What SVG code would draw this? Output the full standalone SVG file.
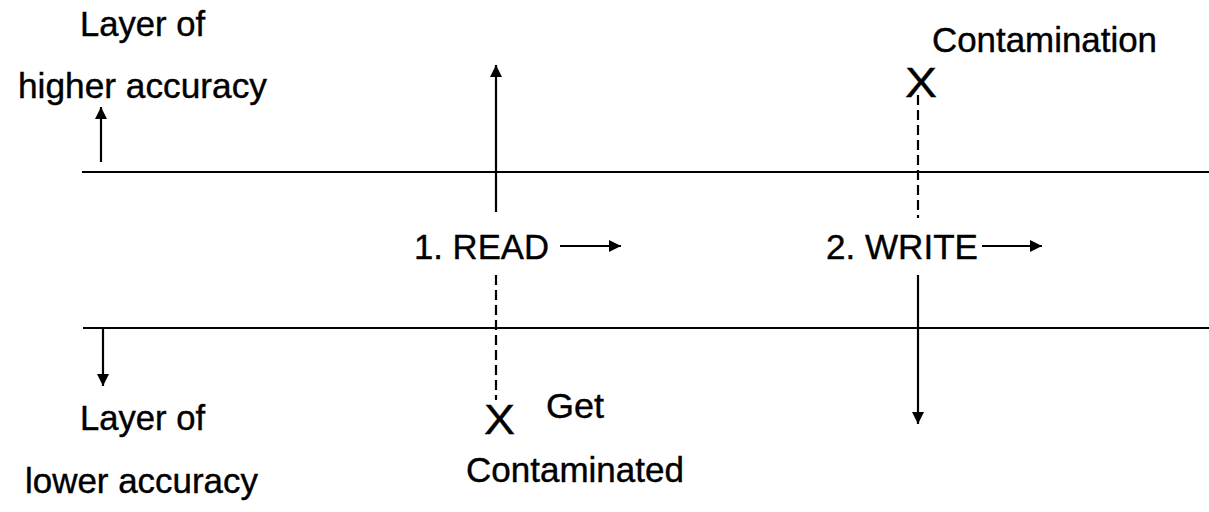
<svg xmlns="http://www.w3.org/2000/svg" width="1209" height="512" viewBox="0 0 1209 512">
<style>
text{font-family:"Liberation Sans",Arial,sans-serif;fill:#000;stroke:#000;stroke-width:0.4}
.t{font-size:35px}
.x{font-size:43px}
.ln{stroke:#000;stroke-width:2.2;fill:none}
.ds{stroke:#000;stroke-width:2.2;fill:none;stroke-dasharray:10,5}
.ar{stroke:#000;stroke-width:2.2;fill:none;marker-end:url(#ah)}
</style>
<defs>
<marker id="ah" markerUnits="userSpaceOnUse" markerWidth="14" markerHeight="14" refX="12" refY="6" orient="auto">
<path d="M0,0 L12,6 L0,12 Z" fill="#000"/>
</marker>
</defs>
<rect width="1209" height="512" fill="#fff"/>
<g id="layers">
<line class="ln" x1="82" y1="172" x2="1209" y2="172"/>
<line class="ln" x1="83" y1="328" x2="1209" y2="328"/>
</g>
<g id="label-higher">
<text class="t" x="80" y="36" textLength="125" lengthAdjust="spacingAndGlyphs">Layer of</text>
<text class="t" x="18" y="98" textLength="249" lengthAdjust="spacingAndGlyphs">higher accuracy</text>
</g>
<g id="label-lower">
<text class="t" x="80" y="430" textLength="125" lengthAdjust="spacingAndGlyphs">Layer of</text>
<text class="t" x="25" y="493" textLength="233" lengthAdjust="spacingAndGlyphs">lower accuracy</text>
</g>
<g id="read">
<text class="t" x="414" y="259" textLength="135" lengthAdjust="spacingAndGlyphs">1. READ</text>
</g>
<g id="write">
<text class="t" x="826" y="259" textLength="152" lengthAdjust="spacingAndGlyphs">2. WRITE</text>
</g>
<g id="contamination">
<text class="x" x="905" y="97" textLength="32" lengthAdjust="spacingAndGlyphs">X</text>
<text class="t" x="932" y="52" textLength="225" lengthAdjust="spacingAndGlyphs">Contamination</text>
</g>
<g id="get-contaminated">
<text class="x" x="484" y="434" textLength="31" lengthAdjust="spacingAndGlyphs">X</text>
<text class="t" x="546" y="418" textLength="58" lengthAdjust="spacingAndGlyphs">Get</text>
<text class="t" x="466" y="482" textLength="218" lengthAdjust="spacingAndGlyphs">Contaminated</text>
</g>
<g id="connectors">
<line class="ar" x1="496" y1="212" x2="496" y2="65"/>
<line class="ds" x1="496" y1="275" x2="496" y2="400"/>
<line class="ar" x1="560" y1="246" x2="621" y2="246"/>
<line class="ds" x1="918" y1="95" x2="918" y2="218"/>
<line class="ar" x1="982" y1="246" x2="1042" y2="246"/>
<line class="ar" x1="918" y1="275" x2="918" y2="424"/>
<line class="ar" x1="101" y1="162" x2="101" y2="107"/>
<line class="ar" x1="103" y1="328" x2="103" y2="386"/>
</g>
</svg>
